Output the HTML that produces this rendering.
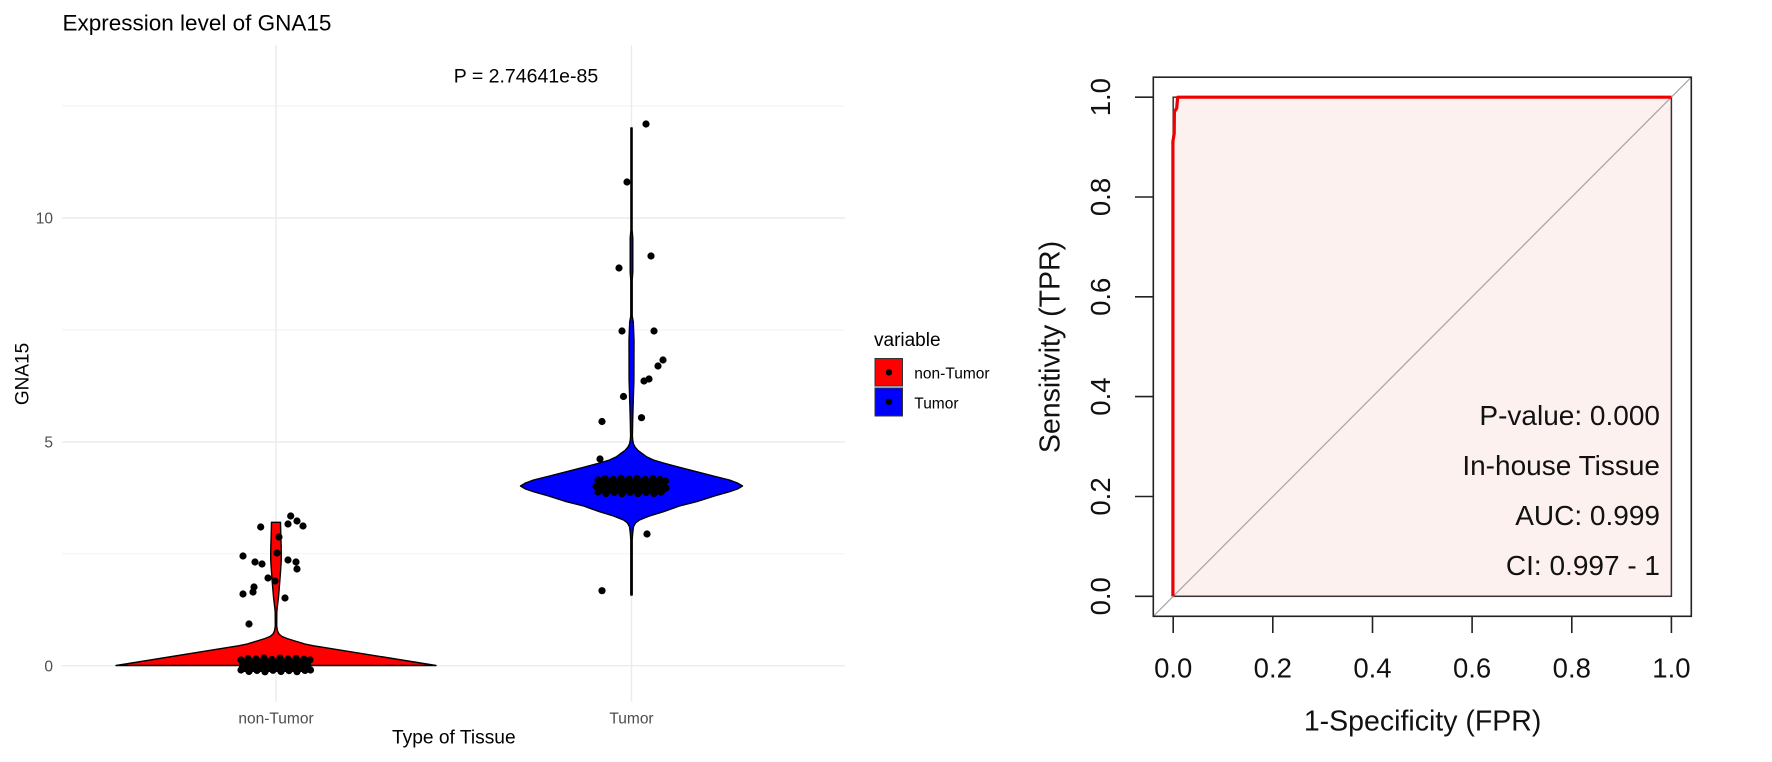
<!DOCTYPE html>
<html><head><meta charset="utf-8"><style>
html,body{margin:0;padding:0;background:#fff;}
svg{display:block;}
text{font-family:"Liberation Sans",Arial,sans-serif;}
</style></head><body>
<svg width="1772" height="762" viewBox="0 0 1772 762" xmlns="http://www.w3.org/2000/svg">
<rect width="1772" height="762" fill="#fff"/>

<!-- LEFT: violin plot -->
<text x="62.5" y="30.7" font-size="22.5" fill="#000">Expression level of GNA15</text>

<!-- grid -->
<g stroke="#ebebeb" fill="none">
  <line x1="62" y1="106" x2="845" y2="106" stroke-width="0.7"/>
  <line x1="62" y1="330" x2="845" y2="330" stroke-width="0.7"/>
  <line x1="62" y1="553.8" x2="845" y2="553.8" stroke-width="0.7"/>
  <line x1="62" y1="218" x2="845" y2="218" stroke-width="1.4"/>
  <line x1="62" y1="441.9" x2="845" y2="441.9" stroke-width="1.4"/>
  <line x1="62" y1="665.7" x2="845" y2="665.7" stroke-width="1.4"/>
  <line x1="276" y1="45" x2="276" y2="702" stroke-width="1.4"/>
  <line x1="631.5" y1="45" x2="631.5" y2="702" stroke-width="1.4"/>
</g>

<text x="526" y="82.3" font-size="19.5" text-anchor="middle" fill="#000">P = 2.74641e-85</text>

<!-- y ticks -->
<g font-size="15.5" fill="#4d4d4d" text-anchor="end">
  <text x="53" y="223.5">10</text>
  <text x="53" y="447.4">5</text>
  <text x="53" y="671.3">0</text>
</g>
<text transform="translate(28.5,374) rotate(-90)" font-size="19" text-anchor="middle" fill="#000">GNA15</text>

<!-- x ticks -->
<g font-size="15.5" fill="#4d4d4d" text-anchor="middle">
  <text x="276" y="723.5">non-Tumor</text>
  <text x="631.5" y="723.5">Tumor</text>
</g>
<text x="453.8" y="743.5" font-size="19.2" text-anchor="middle" fill="#000">Type of Tissue</text>

<!-- red violin -->
<path fill="#ff0000" stroke="#000" stroke-width="1.4" stroke-linejoin="round" d="M280.5,522.3 L280.8,535 L281.2,547 L281.3,560 L280.5,572 L279.5,585 L278.5,597 L277.3,607 L276.8,612 L276.7,626 L277.5,631 L279,634 L282,636.5 L287,638.5 L295,641 L305,644 L313,645.7 L436,665.5 L116,665.5 L239,645.7 L247,644 L257,641 L265,638.5 L270,636.5 L273,634 L274.5,631 L275.3,626 L275.2,612 L274.7,607 L273.5,597 L272.5,585 L271.5,572 L270.7,560 L270.8,547 L271.2,535 L271.5,522.3 Z"/>

<!-- blue violin -->
<path fill="#0000ff" stroke="#000" stroke-width="1.4" stroke-linejoin="round" d="M632.1,128 L632.1,230 L632.8,238 L632.8,272 L632.2,280 L632.2,316 L633.3,322 L634,340 L633.9,380 L633.3,400 L632.7,420 L632.4,436 L632.7,440 L633.5,444 L635,447 L637.5,450 L641.5,453 L646.5,456.7 L653.5,460 L663.5,463 L678.5,467 L696.5,471.7 L713.5,476 L729.5,480 L737.5,483 L742.5,486 L737.5,489 L729.5,491.7 L714.5,496 L696.5,501.7 L679.5,506 L663.5,511.7 L649.5,516 L639.5,520 L635.5,523 L633.5,526.7 L632.7,533 L632.2,540 L632.2,595 L630.8,595 L630.8,540 L630.3,533 L629.5,526.7 L627.5,523 L623.5,520 L613.5,516 L599.5,511.7 L583.5,506 L566.5,501.7 L548.5,496 L533.5,491.7 L525.5,489 L520.5,486 L525.5,483 L533.5,480 L549.5,476 L566.5,471.7 L584.5,467 L599.5,463 L609.5,460 L616.5,456.7 L621.5,453 L625.5,450 L628,447 L629.5,444 L630.3,440 L630.6,436 L630.3,420 L629.7,400 L629.1,380 L629,340 L629.7,322 L630.8,316 L630.8,280 L630.2,272 L630.2,238 L630.9,230 L630.9,128 Z"/>

<!-- jitter points -->
<g fill="#000">
  <!-- red clusters -->
  <rect x="239" y="658.5" width="72" height="13.5" rx="3"/>
  <circle cx="241" cy="660" r="3.6"/><circle cx="248" cy="658.5" r="3.6"/><circle cx="256" cy="659" r="3.6"/><circle cx="264" cy="658" r="3.6"/><circle cx="272" cy="659.5" r="3.6"/><circle cx="280" cy="658" r="3.6"/><circle cx="288" cy="659" r="3.6"/><circle cx="296" cy="658.3" r="3.6"/><circle cx="304" cy="659.2" r="3.6"/><circle cx="310" cy="660" r="3.6"/>
  <circle cx="241" cy="670" r="3.6"/><circle cx="249" cy="671.5" r="3.6"/><circle cx="257" cy="670.5" r="3.6"/><circle cx="265" cy="671.8" r="3.6"/><circle cx="273" cy="670.3" r="3.6"/><circle cx="281" cy="671.5" r="3.6"/><circle cx="289" cy="670.6" r="3.6"/><circle cx="297" cy="671.7" r="3.6"/><circle cx="305" cy="670.4" r="3.6"/><circle cx="310.5" cy="670" r="3.6"/>
  <!-- red scattered -->
  <circle cx="290.7" cy="516" r="3.6"/><circle cx="297" cy="521" r="3.6"/><circle cx="288" cy="524" r="3.6"/><circle cx="303" cy="526" r="3.6"/><circle cx="260.7" cy="527" r="3.6"/><circle cx="279" cy="537" r="3.6"/><circle cx="277" cy="553" r="3.6"/><circle cx="243" cy="556" r="3.6"/><circle cx="255" cy="562" r="3.6"/><circle cx="262" cy="564" r="3.6"/><circle cx="288" cy="560" r="3.6"/><circle cx="296" cy="562" r="3.6"/><circle cx="297" cy="569" r="3.6"/><circle cx="268" cy="578" r="3.6"/><circle cx="275" cy="581" r="3.6"/><circle cx="254" cy="587" r="3.6"/><circle cx="253" cy="592" r="3.6"/><circle cx="243" cy="594" r="3.6"/><circle cx="285" cy="598" r="3.6"/><circle cx="249" cy="624" r="3.6"/>
  <!-- blue cluster -->
  <rect x="597" y="478.5" width="69" height="15" rx="3"/>
  <circle cx="598" cy="480" r="3.6"/><circle cx="605" cy="478.5" r="3.6"/><circle cx="613" cy="479.3" r="3.6"/><circle cx="621" cy="478.2" r="3.6"/><circle cx="629" cy="479" r="3.6"/><circle cx="637" cy="478.4" r="3.6"/><circle cx="645" cy="479.4" r="3.6"/><circle cx="653" cy="478.6" r="3.6"/><circle cx="660" cy="479.5" r="3.6"/><circle cx="665.5" cy="481" r="3.6"/>
  <circle cx="598" cy="492" r="3.6"/><circle cx="606" cy="493.5" r="3.6"/><circle cx="614" cy="492.5" r="3.6"/><circle cx="622" cy="493.7" r="3.6"/><circle cx="630" cy="492.4" r="3.6"/><circle cx="638" cy="493.6" r="3.6"/><circle cx="646" cy="492.6" r="3.6"/><circle cx="654" cy="493.5" r="3.6"/><circle cx="661" cy="492.2" r="3.6"/><circle cx="666" cy="488" r="3.6"/><circle cx="596" cy="486" r="3.6"/>
  <!-- blue scattered -->
  <circle cx="646" cy="124" r="3.6"/><circle cx="627" cy="182" r="3.6"/><circle cx="651" cy="256" r="3.6"/><circle cx="619" cy="268" r="3.6"/><circle cx="622" cy="331" r="3.6"/><circle cx="654" cy="331" r="3.6"/><circle cx="663" cy="360" r="3.6"/><circle cx="658" cy="366" r="3.6"/><circle cx="644" cy="381" r="3.6"/><circle cx="649" cy="379" r="3.6"/><circle cx="623.5" cy="396.5" r="3.6"/><circle cx="602" cy="421.5" r="3.6"/><circle cx="641.5" cy="417.7" r="3.6"/><circle cx="600" cy="459" r="3.6"/><circle cx="647" cy="534" r="3.6"/><circle cx="602" cy="590.7" r="3.6"/>
</g>

<!-- legend -->
<text x="874" y="346" font-size="19" fill="#000">variable</text>
<rect x="875" y="358.5" width="27.5" height="27.5" fill="#ff0000" stroke="#333" stroke-width="1"/>
<rect x="875" y="388" width="27.5" height="28" fill="#0000ff" stroke="#333" stroke-width="1"/>
<circle cx="889" cy="372.3" r="3.2" fill="#000"/>
<circle cx="889" cy="401.7" r="3.2" fill="#000"/>
<text x="914.3" y="378.3" font-size="15.5" fill="#000">non-Tumor</text>
<text x="914.3" y="408.3" font-size="15.5" fill="#000">Tumor</text>

<!-- RIGHT: ROC -->
<rect x="1173.2" y="97.2" width="498.2" height="499.1" fill="#fdf1f0" stroke="#333" stroke-width="1.5"/>
<line x1="1153.3" y1="616.3" x2="1691.3" y2="77.2" stroke="#a8a8a8" stroke-width="1.3"/>
<polyline fill="none" stroke="#ee0000" stroke-width="3.2" stroke-linejoin="round" points="1172.9,596.3 1172.9,141.5 1174.2,133.5 1174.4,111.7 1176.7,108.3 1177.7,97.2 1671.4,97.2"/>
<rect x="1153.3" y="77.2" width="538" height="539.1" fill="none" stroke="#222" stroke-width="1.6"/>

<g stroke="#222" stroke-width="1.6">
  <line x1="1135" y1="596.3" x2="1153.3" y2="596.3"/>
  <line x1="1135" y1="496.5" x2="1153.3" y2="496.5"/>
  <line x1="1135" y1="396.6" x2="1153.3" y2="396.6"/>
  <line x1="1135" y1="296.8" x2="1153.3" y2="296.8"/>
  <line x1="1135" y1="197" x2="1153.3" y2="197"/>
  <line x1="1135" y1="97.2" x2="1153.3" y2="97.2"/>
  <line x1="1173.2" y1="616.3" x2="1173.2" y2="633"/>
  <line x1="1272.8" y1="616.3" x2="1272.8" y2="633"/>
  <line x1="1372.5" y1="616.3" x2="1372.5" y2="633"/>
  <line x1="1472.1" y1="616.3" x2="1472.1" y2="633"/>
  <line x1="1571.8" y1="616.3" x2="1571.8" y2="633"/>
  <line x1="1671.4" y1="616.3" x2="1671.4" y2="633"/>
</g>

<g font-size="27.5" fill="#111" text-anchor="middle">
  <text x="1173.2" y="677.3">0.0</text>
  <text x="1272.8" y="677.3">0.2</text>
  <text x="1372.5" y="677.3">0.4</text>
  <text x="1472.1" y="677.3">0.6</text>
  <text x="1571.8" y="677.3">0.8</text>
  <text x="1671.4" y="677.3">1.0</text>
  <text transform="translate(1110,596.3) rotate(-90)">0.0</text>
  <text transform="translate(1110,496.5) rotate(-90)">0.2</text>
  <text transform="translate(1110,396.6) rotate(-90)">0.4</text>
  <text transform="translate(1110,296.8) rotate(-90)">0.6</text>
  <text transform="translate(1110,197) rotate(-90)">0.8</text>
  <text transform="translate(1110,97.2) rotate(-90)">1.0</text>
</g>
<text x="1422.6" y="730.5" font-size="28.5" fill="#111" text-anchor="middle">1-Specificity (FPR)</text>
<text transform="translate(1059.5,347) rotate(-90)" font-size="28.5" fill="#111" text-anchor="middle">Sensitivity (TPR)</text>

<g font-size="28" fill="#111" text-anchor="end">
  <text x="1660" y="425">P-value: 0.000</text>
  <text x="1660" y="475">In-house Tissue</text>
  <text x="1660" y="525">AUC: 0.999</text>
  <text x="1660" y="575">CI: 0.997 - 1</text>
</g>
</svg>
</body></html>
